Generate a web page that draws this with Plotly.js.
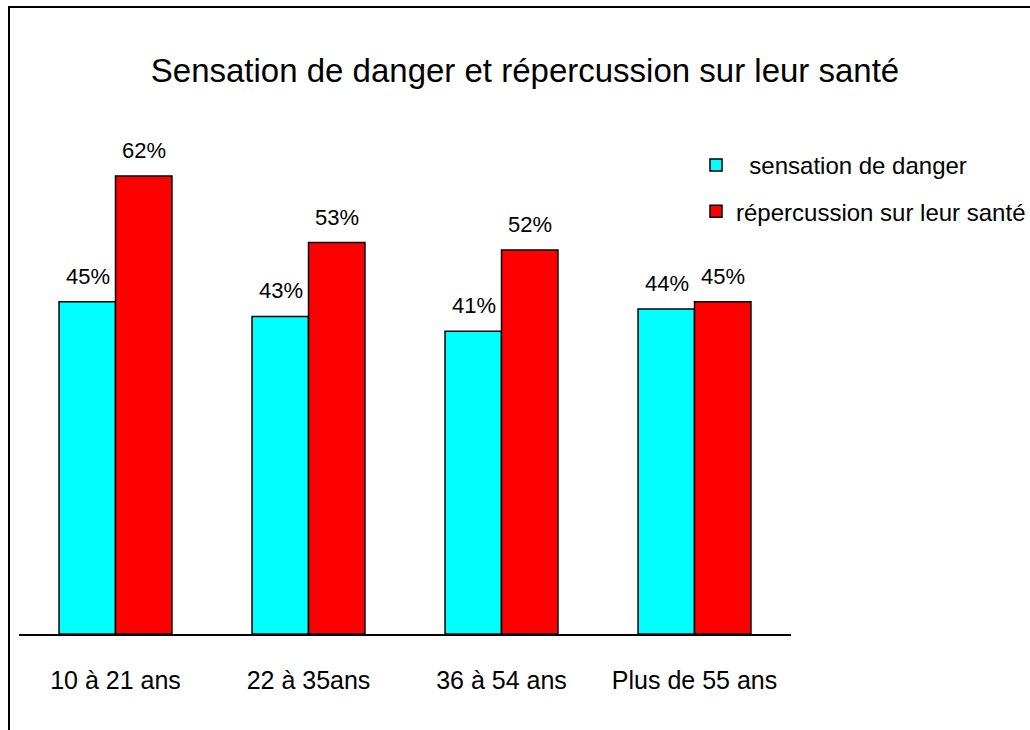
<!DOCTYPE html>
<html>
<head>
<meta charset="utf-8">
<script src="https://cdn.plot.ly/plotly-3.0.1.min.js"></script>
<style>
  html, body { margin: 0; padding: 0; background: #fff; }
  #wrap { position: relative; width: 1030px; height: 730px; overflow: hidden; }
  #frame { position: absolute; left: 8px; top: 6px; width: 1100px; height: 800px; border: 2.5px solid #000; box-sizing: border-box; pointer-events: none; z-index: 2; }
  #chart { position: absolute; left: 0; top: 0; width: 1030px; height: 730px; }
</style>
</head>
<body>
<div id="wrap">
  <div id="chart"></div>
  <div id="frame"></div>
</div>
<script>
const categories = ["10 à 21 ans", "22 à 35ans", "36 à 54 ans", "Plus de 55 ans"];
const sensationDanger = [45, 43, 41, 44];
const repercussionSante = [62, 53, 52, 45];
const seriesNames = ["\u00a0\u00a0sensation de danger", "répercussion sur leur santé"];

const FONT = "'Liberation Sans', Arial, sans-serif";

const traces = [
  {
    type: "bar", x: categories, y: sensationDanger, name: seriesNames[0],
    marker: { color: "#00FFFF", line: { color: "#000", width: 1.5 } },
    legendgroup: "a", hoverinfo: "skip"
  },
  {
    type: "bar", x: categories, y: repercussionSante, name: seriesNames[1],
    marker: { color: "#FF0000", line: { color: "#000", width: 1.5 } },
    legendgroup: "b", hoverinfo: "skip"
  }
];

const annotations = [];
const series = [sensationDanger, repercussionSante];
series.forEach((vals, s) => {
  vals.forEach((v, i) => {
    annotations.push({
      x: categories[i], y: v, xref: "x", yref: "y",
      text: v + "%", showarrow: false,
      xshift: s === 0 ? -28 : 28, yshift: 11,
      yanchor: "bottom", xanchor: "center",
      font: { family: FONT, size: 22, color: "#000" }
    });
  });
});

const layout = {
  width: 1030, height: 730,
  margin: { l: 19, r: 239, t: 117, b: 96, pad: 0, autoexpand: false },
  paper_bgcolor: "#fff", plot_bgcolor: "#fff",
  font: { family: FONT, color: "#000" },
  title: {
    text: "Sensation de danger et répercussion sur leur santé",
    font: { family: FONT, size: 33, color: "#000" },
    xref: "container", x: 525 / 1030, xanchor: "center",
    yref: "container", y: 1 - 70 / 730, yanchor: "middle"
  },
  barmode: "group", bargap: 0.415, bargroupgap: 0,
  xaxis: {
    type: "category",
    showline: true, linecolor: "#000", linewidth: 2,
    ticks: "", showgrid: false, zeroline: false,
    tickangle: 0, automargin: false,
    tickfont: { family: FONT, size: 25, color: "#000" },
    ticklabelstandoff: 23
  },
  yaxis: {
    range: [0, 70], visible: false, showgrid: false, zeroline: false
  },
  showlegend: true,
  legend: {
    xref: "container", yref: "container",
    x: 696 / 1030, y: 1 - 143 / 730, xanchor: "left", yanchor: "top",
    font: { family: FONT, size: 24, color: "#000" },
    traceorder: "grouped", tracegroupgap: 12,
    bgcolor: "rgba(0,0,0,0)", borderwidth: 0
  },
  annotations: annotations
};

Plotly.newPlot("chart", traces, layout, { staticPlot: true, displayModeBar: false });
</script>
</body>
</html>
